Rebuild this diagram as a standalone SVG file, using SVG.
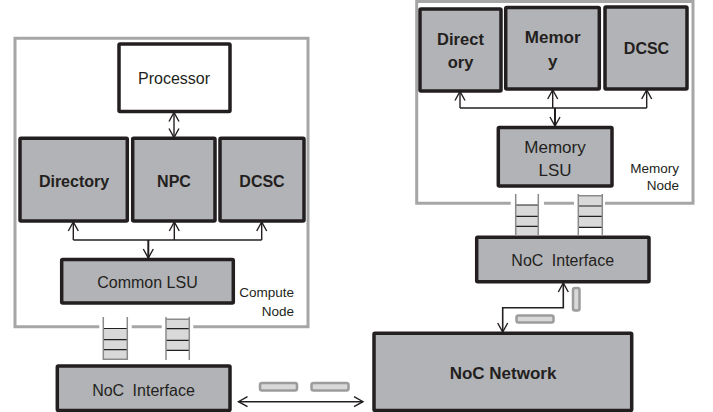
<svg xmlns="http://www.w3.org/2000/svg" width="713" height="412" viewBox="0 0 713 412">
<defs>
<style>
.frame{fill:none;stroke:#a6a6a6;stroke-width:3}
.box{fill:#b2b3b6;stroke:#231f20;stroke-width:3.5}
.wbox{fill:#ffffff;stroke:#231f20;stroke-width:3.5}
.t{font-family:"Liberation Sans",Arial,sans-serif;font-size:16px;fill:#231f20;text-anchor:middle}
.b{font-weight:bold}
.s{font-family:"Liberation Sans",Arial,sans-serif;font-size:13.5px;fill:#231f20;text-anchor:end}
.c{fill:none;stroke:#231f20;stroke-width:1.4}
.qs{fill:none;stroke:#8a8a8a;stroke-width:1.5}
.qc{fill:#d9d9d9;stroke:none}
.ql{stroke:#231f20;stroke-width:1.2}
.flit{fill:#d9d9d9;stroke:#9c9c9c;stroke-width:2.5}
</style>
<marker id="ah" markerUnits="userSpaceOnUse" markerWidth="12" markerHeight="12" viewBox="0 0 12 12" refX="10" refY="6" orient="auto-start-reverse">
<path d="M1,1 L10,6 L1,11" fill="none" stroke="#231f20" stroke-width="1.4"/>
</marker>
</defs>

<!-- frames -->
<path class="frame" d="M99.3,326.7 H15 V38.3 H308 V326.7 H193.3 M161.7,326.7 H131.7"/>
<path class="frame" d="M510.7,203.3 H416.7 V1.5 H693 V203.3 H605 M574,203.3 H544"/>
<text class="s" x="294" y="297">Compute</text>
<text class="s" x="294" y="316">Node</text>
<text class="s" x="679" y="173">Memory</text>
<text class="s" x="679" y="190">Node</text>

<!-- compute node -->
<g id="processor"><rect class="wbox" x="119" y="44" width="111" height="67.5" rx="1"/><text class="t" x="174" y="84">Processor</text></g>
<g id="directory-c"><rect class="box" x="20" y="138.3" width="107.3" height="82.7" rx="1"/><text class="t b" x="74" y="187">Directory</text></g>
<g id="npc"><rect class="box" x="132.7" y="138.3" width="82.3" height="82.7" rx="1"/><text class="t b" x="174" y="187">NPC</text></g>
<g id="dcsc-c"><rect class="box" x="220" y="138.3" width="84" height="82.7" rx="1"/><text class="t b" x="262" y="187">DCSC</text></g>
<g id="common-lsu"><rect class="box" x="61.7" y="259.5" width="171.6" height="43.5" rx="1"/><text class="t" x="147.5" y="288">Common LSU</text></g>

<!-- memory node -->
<g id="directory-m"><rect class="box" x="420" y="9" width="81" height="82" rx="1"/><text class="t b" x="460.5" y="45" style="font-size:16.5px">Direct</text><text class="t b" x="460.5" y="68" style="font-size:16.5px">ory</text></g>
<g id="memory"><rect class="box" x="505.7" y="7.5" width="93.6" height="81.5" rx="1"/><text class="t b" x="552.7" y="43" style="font-size:17px">Memor</text><text class="t b" x="552.7" y="67" style="font-size:17px">y</text></g>
<g id="dcsc-m"><rect class="box" x="605" y="7" width="82" height="82" rx="1"/><text class="t b" x="646.5" y="54">DCSC</text></g>
<g id="memory-lsu"><rect class="box" x="498.3" y="127.5" width="113.7" height="58.5" rx="1"/><text class="t" x="555" y="152.5" style="font-size:17px">Memory</text><text class="t" x="555" y="176" style="font-size:17px">LSU</text></g>

<!-- queues -->
<g id="queue-c1">
<rect class="qc" x="103.3" y="328.5" width="24" height="30.8"/>
<path class="ql" d="M103.3,328.5 H127.3 M103.3,339.7 H127.3 M103.3,349.7 H127.3"/>
<path class="qs" d="M103.3,317 V360 M127.3,317 V360 M103.3,359.3 H127.3"/>
</g>
<g id="queue-c2">
<rect class="qc" x="166" y="319.3" width="23.3" height="31"/>
<path class="ql" d="M166,328.7 H189.3 M166,340.3 H189.3 M166,350.3 H189.3"/>
<path class="qs" d="M166,317 V360 M189.3,317 V360 M166,319.3 H189.3"/>
</g>
<g id="queue-m1">
<rect class="qc" x="515.7" y="205" width="22.6" height="30"/>
<path class="ql" d="M515.7,205 H538.3 M515.7,216.3 H538.3 M515.7,226.3 H538.3"/>
<path class="qs" d="M515.7,194 V235 M538.3,194 V235"/>
</g>
<g id="queue-m2">
<rect class="qc" x="578.3" y="195.7" width="24" height="31.6"/>
<path class="ql" d="M578.3,206 H602.3 M578.3,216.3 H602.3 M578.3,227.3 H602.3"/>
<path class="qs" d="M578.3,194 V235 M602.3,194 V235 M578.3,195.7 H602.3"/>
</g>

<!-- interfaces and network -->
<g id="noc-interface-c"><rect class="box" x="57.3" y="366" width="172.7" height="44.5" rx="1"/><text class="t" x="143.5" y="396" style="word-spacing:4px">NoC Interface</text></g>
<g id="noc-interface-m"><rect class="box" x="476.7" y="237.3" width="172.3" height="44.4" rx="1"/><text class="t" x="562.7" y="266" style="word-spacing:4px">NoC Interface</text></g>
<g id="noc-network"><rect class="box" x="374" y="333.3" width="257.7" height="77.2" rx="1"/><text class="t b" x="503" y="379" style="font-size:17px">NoC Network</text></g>

<!-- flits -->
<g id="flits">
<rect class="flit" x="260" y="383" width="37" height="7.5" rx="2"/>
<rect class="flit" x="311.5" y="383" width="37" height="7.5" rx="2"/>
<rect class="flit" x="516.5" y="315.5" width="37" height="7" rx="2"/>
<rect class="flit" x="573" y="288" width="6.5" height="22.5" rx="2"/>
</g>

<!-- connectors -->
<g id="connectors">
<path class="c" d="M174,112.5 V137.5" marker-start="url(#ah)" marker-end="url(#ah)"/>
<path class="c" d="M73.3,240 H261.7"/>
<path class="c" d="M73.3,240 V222" marker-end="url(#ah)"/>
<path class="c" d="M174.3,240 V222" marker-end="url(#ah)"/>
<path class="c" d="M261.7,240 V222" marker-end="url(#ah)"/>
<path class="c" d="M148.3,240 V258" marker-end="url(#ah)" style="stroke-width:2"/>
<path class="c" d="M460,108 H646.7"/>
<path class="c" d="M460,108 V91.5" marker-end="url(#ah)"/>
<path class="c" d="M552.7,108 V90" marker-end="url(#ah)"/>
<path class="c" d="M646.7,108 V90" marker-end="url(#ah)"/>
<path class="c" d="M555,108 V126" marker-end="url(#ah)" style="stroke-width:2"/>
<path class="c" d="M502.7,332 V307.7 H563.3 V283" marker-start="url(#ah)" marker-end="url(#ah)" style="stroke-width:1.6"/>
<path class="c" d="M238.5,401.7 H363" marker-start="url(#ah)" marker-end="url(#ah)" style="stroke-width:1.6"/>
</g>
</svg>
